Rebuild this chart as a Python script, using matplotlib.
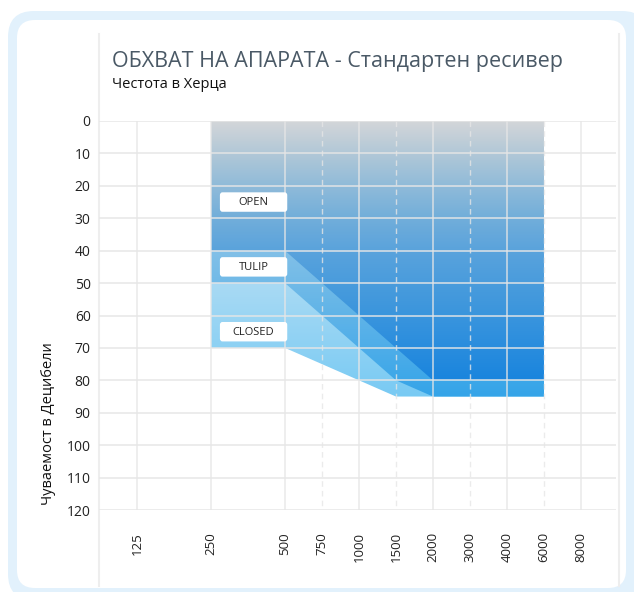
import math
import numpy as np
import matplotlib
matplotlib.use('Agg')
import matplotlib.pyplot as plt
from matplotlib.patches import FancyBboxPatch, Polygon
from matplotlib.colors import LinearSegmentedColormap
from matplotlib.transforms import IdentityTransform

# ---------------- data ----------------
freqs = [125, 250, 500, 750, 1000, 1500, 2000, 3000, 4000, 6000, 8000]
freq_labels = ['125', '250', '500', '750', '1000', '1500', '2000', '3000', '4000', '6000', '8000']
db_ticks = list(range(0, 121, 10))

range_freqs = [250, 500, 750, 1000, 1500, 2000, 6000]
range_top = [0, 0, 0, 0, 0, 0, 0]
open_bottom = [40, 40, 50, 60, 70, 80, 80]
tulip_bottom = [50, 50, 60, 70, 80, 85, 85]
closed_bottom = [70, 70, 75, 80, 85, 85, 85]

band_labels = ['OPEN', 'TULIP', 'CLOSED']
band_label_db = [25, 45, 65]

title = 'ОБХВАТ НА АПАРАТА - Стандартен ресивер'
subtitle = 'Честота в Херца'
ylabel = 'Чуваемост в Децибели'


def fpos(f):
    """Audiogram x scale: octaves evenly spaced, half-octaves midway."""
    o = math.log2(f / 125)
    if abs(o - round(o)) < 1e-9:
        return o
    return math.log2(f / 1.5 / 125) + 0.5


FONT = ['Open Sans', 'DejaVu Sans']
plt.rcParams['font.family'] = FONT

W, H = 634, 592
fig = plt.figure(figsize=(W / 100, H / 100), dpi=100)
fig.patch.set_facecolor('white')

# ---------------- card frame ----------------
outer = FancyBboxPatch((8, -8), 640, 589, boxstyle='round,pad=0,rounding_size=26',
                       transform=IdentityTransform(), fc='#e2f1fc', ec='none', zorder=-3)
inner = FancyBboxPatch((17, 4), 609, 568, boxstyle='round,pad=0,rounding_size=18',
                       transform=IdentityTransform(), fc='white', ec='none', zorder=-2)
fig.add_artist(outer)
fig.add_artist(inner)
for xpx in (99, 619):
    fig.add_artist(plt.Line2D([xpx / W, xpx / W], [1 - 34 / H, 1 - 586 / H],
                              transform=fig.transFigure, color='#eeeeee', lw=1.5, zorder=-1))

# ---------------- axes ----------------
ax = fig.add_axes([99 / W, 1 - 510 / H, (616 - 99) / W, (510 - 121) / H])
ax.set_zorder(2)
ax.patch.set_visible(False)
for s in ax.spines.values():
    s.set_visible(False)

xs = [fpos(f) for f in range_freqs]


def gradient_fill(bottom, stops, z):
    verts = [(x, t) for x, t in zip(xs, range_top)] + \
            [(x, b) for x, b in zip(xs[::-1], bottom[::-1])]
    poly = Polygon(verts, closed=True, fc='none', ec='none')
    ax.add_patch(poly)
    ymax = max(bottom)
    cmap = LinearSegmentedColormap.from_list(
        'g', [(v / ymax, c) for v, c in stops if v <= ymax])
    grad = np.linspace(0, 1, 256).reshape(-1, 1)
    im = ax.imshow(grad, cmap=cmap, aspect='auto', interpolation='bilinear',
                   extent=(min(xs), max(xs), ymax, 0), origin='upper', zorder=z)
    im.set_clip_path(poly)


gradient_fill(closed_bottom, [(0, '#cbe9f7'), (50, '#a9daf3'), (85, '#78caf4')], 1)
gradient_fill(tulip_bottom, [(0, '#b9d8ea'), (40, '#82c0e7'), (85, '#34a4e9')], 1.1)
gradient_fill(open_bottom, [(0, '#d4d6d9'), (10, '#b2c8d7'), (20, '#90bbd9'),
                            (30, '#72aeda'), (40, '#5aa3dc'), (60, '#3a95dd'),
                            (80, '#1a85de')], 1.2)

# ---------------- grid ----------------
for d in db_ticks:
    ax.axhline(d, color=(0.9, 0.9, 0.9), alpha=0.8, lw=1.3, zorder=3)
for f in freqs:
    p = fpos(f)
    if abs(p - round(p)) < 1e-9:
        ax.vlines(p, 0, 120, color=(0.9, 0.9, 0.9), alpha=0.8, lw=1.2, zorder=3)
    else:
        ax.vlines(p, 0, 120, color=(0.9, 0.9, 0.9), alpha=0.8, lw=1.0, zorder=3,
                  linestyles=(0, (4, 3)))

# ---------------- band labels ----------------
bx0 = fpos(250) + 0.12
bx1 = fpos(500) + 0.03
for lab, d in zip(band_labels, band_label_db):
    box = FancyBboxPatch((bx0, d - 3), bx1 - bx0, 6,
                         boxstyle='round,pad=0,rounding_size=0.035',
                         mutation_aspect=25, fc='white', ec='none', zorder=4)
    ax.add_patch(box)
    ax.text((bx0 + bx1) / 2, d + 0.1, lab, ha='center', va='center', fontsize=8,
            color='#222222', zorder=5)

# ---------------- axes scales ----------------
ax.set_xlim(-0.514, 6.473)
ax.set_ylim(120, 0)
ax.set_yticks(db_ticks)
ax.set_yticklabels([str(d) for d in db_ticks], fontsize=10, color='#222222')
ax.set_xticks([fpos(f) for f in freqs])
ax.set_xticklabels(freq_labels, rotation=90, fontsize=9.5, color='#222222', va='top')
ax.tick_params(axis='both', length=0)
ax.tick_params(axis='y', pad=6)
ax.tick_params(axis='x', pad=16)

# ---------------- texts ----------------
fig.text(112 / W, 1 - 67 / H, title, fontsize=15.5, color='#4a5966', ha='left', va='baseline')
fig.text(112 / W, 1 - 88 / H, subtitle, fontsize=10.5, color='#111111', ha='left', va='baseline')
fig.text(49 / W, 1 - 424 / H, ylabel, fontsize=10.5, color='#111111', rotation=90,
         ha='center', va='center')

fig.savefig('out.png', dpi=100, facecolor='white')
